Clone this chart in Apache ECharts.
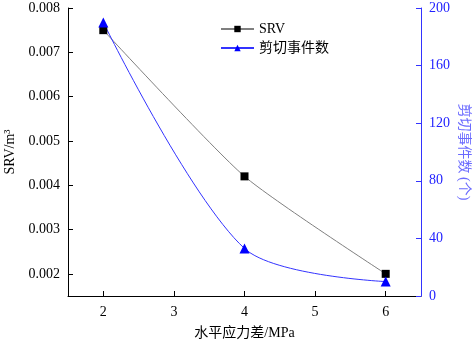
<!DOCTYPE html>
<html><head><meta charset="utf-8">
<script src="https://cdn.jsdelivr.net/npm/echarts@6/dist/echarts.min.js"></script>
<style>html,body{margin:0;padding:0;background:#fff}#c{width:472px;height:341px}</style>
</head><body><div id="c"></div>
<script>
const xValues = [2, 4, 6];
const srvValues = [0.0075, 0.0042, 0.0020];
const shearValues = [190, 33, 10];
const xTicks = [2, 3, 4, 5, 6];
const leftTicks = [0.002, 0.003, 0.004, 0.005, 0.006, 0.007, 0.008];
const rightTicks = [0, 40, 80, 120, 160, 200];

const serif = '"Liberation Serif","Times New Roman",serif';
const cjk = '"Liberation Serif","Noto Sans CJK SC",serif';
const chart = echarts.init(document.getElementById('c'));
chart.setOption({
  animation: false,
  grid: {left: 68, right: 51, top: 8, bottom: 45, containLabel: false, outerBoundsMode: 'none'},
  legend: {
    orient: 'vertical', left: 215, top: 17, itemWidth: 33, itemHeight: 8, itemGap: 5,
    textStyle: {fontFamily: cjk, fontSize: 14, color: '#000'},
    data: [{name: 'SRV'}, {name: '剪切事件数'}]
  },
  xAxis: {
    type: 'value', min: 1.5, max: 6.5,
    name: '水平应力差/MPa', nameLocation: 'middle', nameGap: 30, nameMoveOverlap: false,
    nameTextStyle: {fontFamily: cjk, fontSize: 14, color: '#000'},
    axisLine: {lineStyle: {color: '#000', width: 1}},
    axisTick: {inside: true, length: 5, customValues: xTicks, lineStyle: {color: '#000'}},
    axisLabel: {customValues: xTicks, fontFamily: serif, fontSize: 14, color: '#000', margin: 9},
    splitLine: {show: false}
  },
  yAxis: [{
    type: 'value', min: 0.0015, max: 0.008, position: 'left',
    name: 'SRV/m³', nameLocation: 'middle', nameGap: 51, nameMoveOverlap: false,
    nameTextStyle: {fontFamily: serif, fontSize: 14, color: '#000'},
    axisLine: {show: true, lineStyle: {color: '#000'}},
    axisTick: {show: true, inside: true, length: 5, customValues: leftTicks, lineStyle: {color: '#000'}},
    axisLabel: {customValues: leftTicks, fontFamily: serif, fontSize: 14, color: '#000', margin: 8,
      formatter: v => v.toFixed(3)},
    splitLine: {show: false}
  }, {
    type: 'value', min: 0, max: 200, position: 'right',
    name: '剪切事件数 (个)', nameLocation: 'middle', nameGap: 36, nameRotate: -90, nameMoveOverlap: false,
    nameTextStyle: {fontFamily: cjk, fontSize: 14, color: '#6b6bff'},
    axisLine: {show: true, lineStyle: {color: '#3333ff'}},
    axisTick: {show: true, inside: true, length: 5, customValues: rightTicks, lineStyle: {color: '#3333ff'}},
    axisLabel: {customValues: rightTicks, fontFamily: serif, fontSize: 14, color: '#2222ff', margin: 8},
    splitLine: {show: false}
  }],
  series: [{
    name: 'SRV', type: 'line', yAxisIndex: 0, smooth: 0.2,
    data: xValues.map((x, i) => [x, srvValues[i]]),
    symbol: 'rect', symbolSize: 8,
    itemStyle: {color: '#000'},
    lineStyle: {color: '#7f7f7f', width: 1}
  }, {
    name: '剪切事件数', type: 'line', yAxisIndex: 1, smooth: 0.3,
    data: xValues.map((x, i) => [x, shearValues[i]]),
    symbol: 'triangle', symbolSize: 10,
    itemStyle: {color: '#0000ff'},
    lineStyle: {color: '#3333ff', width: 1}
  }]
});
</script></body></html>
